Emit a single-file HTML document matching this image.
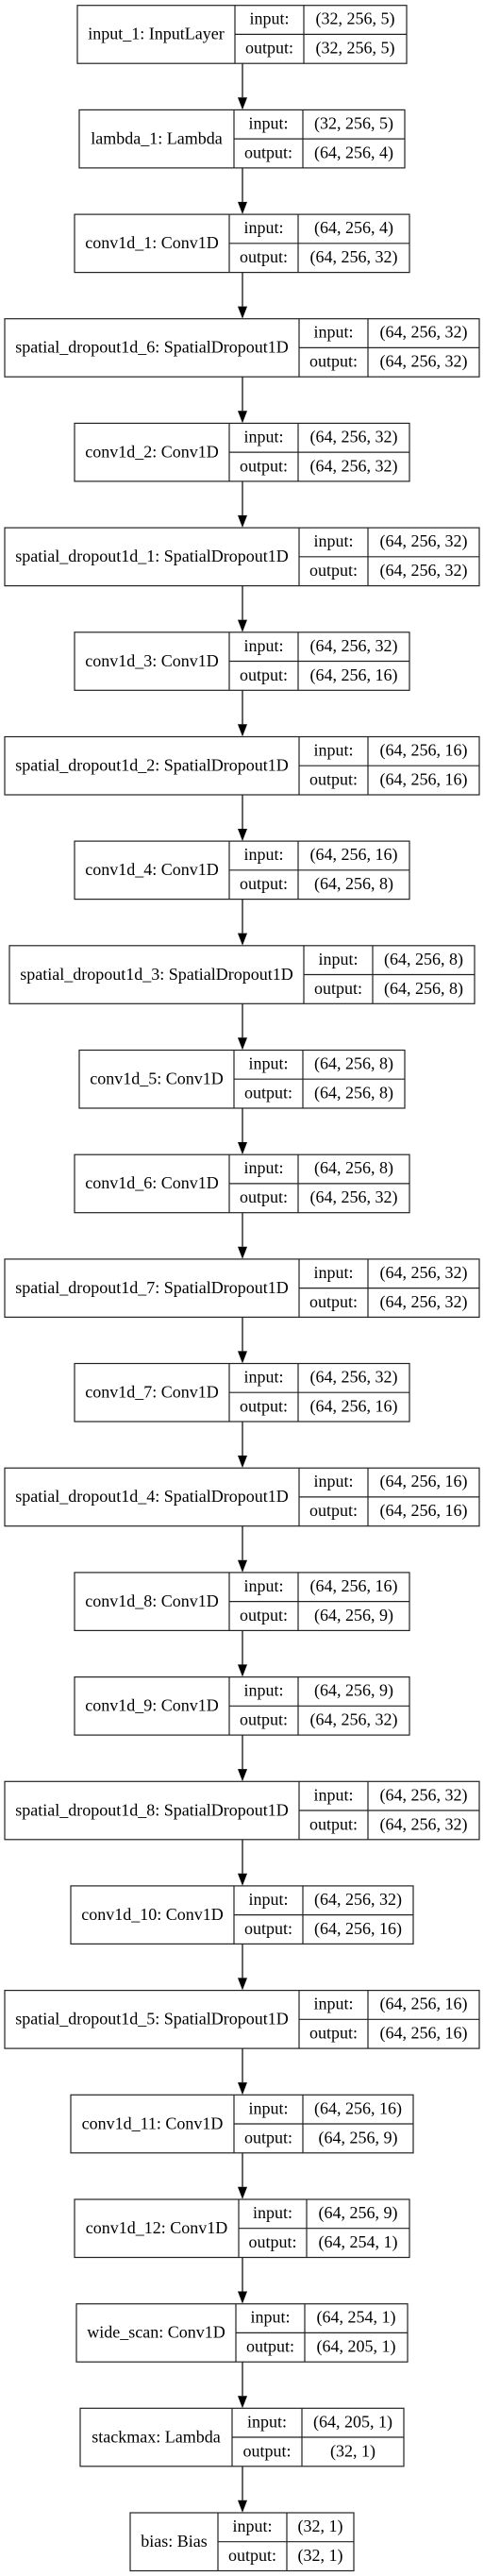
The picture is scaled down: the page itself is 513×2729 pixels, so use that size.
<!DOCTYPE html>
<html><head><meta charset="utf-8"><style>
html,body{margin:0;padding:0;background:#fff;}
svg{display:block;}
text{font-family:"Liberation Serif",serif;font-size:18px;fill:#000;}
.b{fill:none;stroke:#222;stroke-width:1.2;}
</style></head><body>
<svg width="513" height="2729" viewBox="0 0 513 2729" xmlns="http://www.w3.org/2000/svg">
<defs>
<g id="ar"><line x1="257" y1="0" x2="257" y2="36" stroke="#000" stroke-width="1.2"/><polygon points="252,36 262,36 257,49" fill="#000"/></g>
</defs>
<!-- arrows -->
<use href="#ar" y="67.2"/><use href="#ar" y="177.9"/><use href="#ar" y="288.6"/><use href="#ar" y="399.2"/><use href="#ar" y="509.9"/><use href="#ar" y="620.6"/><use href="#ar" y="731.3"/><use href="#ar" y="842"/><use href="#ar" y="952.6"/><use href="#ar" y="1063.3"/><use href="#ar" y="1174"/><use href="#ar" y="1284.7"/><use href="#ar" y="1395.4"/><use href="#ar" y="1506"/><use href="#ar" y="1616.7"/><use href="#ar" y="1727.4"/><use href="#ar" y="1838.1"/><use href="#ar" y="1948.8"/><use href="#ar" y="2059.4"/><use href="#ar" y="2170.1"/><use href="#ar" y="2280.8"/><use href="#ar" y="2391.5"/><use href="#ar" y="2502.2"/><use href="#ar" y="2612.8"/>

<g transform="translate(0,5.7)"><rect class="b" x="82" y="0" width="349" height="61.5"/><path class="b" d="M249 0V61.5M322 0V61.5M249 30.7H431"/><text x="165.5" y="36" text-anchor="middle">input_1: InputLayer</text><text x="285.5" y="20" text-anchor="middle">input:</text><text x="285.5" y="51" text-anchor="middle">output:</text><text x="376.5" y="20" text-anchor="middle">(32, 256, 5)</text><text x="376.5" y="51" text-anchor="middle">(32, 256, 5)</text></g>

<g transform="translate(0,116.4)"><rect class="b" x="84" y="0" width="345" height="61.5"/><path class="b" d="M248 0V61.5M321 0V61.5M248 30.7H429"/><text x="166" y="36" text-anchor="middle">lambda_1: Lambda</text><text x="284.5" y="20" text-anchor="middle">input:</text><text x="284.5" y="51" text-anchor="middle">output:</text><text x="375" y="20" text-anchor="middle">(32, 256, 5)</text><text x="375" y="51" text-anchor="middle">(64, 256, 4)</text></g>

<g transform="translate(0,227.1)"><rect class="b" x="79" y="0" width="355" height="61.5"/><path class="b" d="M243 0V61.5M316 0V61.5M243 30.7H434"/><text x="161" y="36" text-anchor="middle">conv1d_1: Conv1D</text><text x="279.5" y="20" text-anchor="middle">input:</text><text x="279.5" y="51" text-anchor="middle">output:</text><text x="375" y="20" text-anchor="middle">(64, 256, 4)</text><text x="375" y="51" text-anchor="middle">(64, 256, 32)</text></g>

<g transform="translate(0,337.7)"><rect class="b" x="5" y="0" width="503" height="61.5"/><path class="b" d="M317 0V61.5M390 0V61.5M317 30.7H508"/><text x="161" y="36" text-anchor="middle">spatial_dropout1d_6: SpatialDropout1D</text><text x="353.5" y="20" text-anchor="middle">input:</text><text x="353.5" y="51" text-anchor="middle">output:</text><text x="449" y="20" text-anchor="middle">(64, 256, 32)</text><text x="449" y="51" text-anchor="middle">(64, 256, 32)</text></g>

<g transform="translate(0,448.4)"><rect class="b" x="79" y="0" width="355" height="61.5"/><path class="b" d="M243 0V61.5M316 0V61.5M243 30.7H434"/><text x="161" y="36" text-anchor="middle">conv1d_2: Conv1D</text><text x="279.5" y="20" text-anchor="middle">input:</text><text x="279.5" y="51" text-anchor="middle">output:</text><text x="375" y="20" text-anchor="middle">(64, 256, 32)</text><text x="375" y="51" text-anchor="middle">(64, 256, 32)</text></g>

<g transform="translate(0,559.1)"><rect class="b" x="5" y="0" width="503" height="61.5"/><path class="b" d="M317 0V61.5M390 0V61.5M317 30.7H508"/><text x="161" y="36" text-anchor="middle">spatial_dropout1d_1: SpatialDropout1D</text><text x="353.5" y="20" text-anchor="middle">input:</text><text x="353.5" y="51" text-anchor="middle">output:</text><text x="449" y="20" text-anchor="middle">(64, 256, 32)</text><text x="449" y="51" text-anchor="middle">(64, 256, 32)</text></g>

<g transform="translate(0,669.8)"><rect class="b" x="79" y="0" width="355" height="61.5"/><path class="b" d="M243 0V61.5M316 0V61.5M243 30.7H434"/><text x="161" y="36" text-anchor="middle">conv1d_3: Conv1D</text><text x="279.5" y="20" text-anchor="middle">input:</text><text x="279.5" y="51" text-anchor="middle">output:</text><text x="375" y="20" text-anchor="middle">(64, 256, 32)</text><text x="375" y="51" text-anchor="middle">(64, 256, 16)</text></g>

<g transform="translate(0,780.5)"><rect class="b" x="5" y="0" width="503" height="61.5"/><path class="b" d="M317 0V61.5M390 0V61.5M317 30.7H508"/><text x="161" y="36" text-anchor="middle">spatial_dropout1d_2: SpatialDropout1D</text><text x="353.5" y="20" text-anchor="middle">input:</text><text x="353.5" y="51" text-anchor="middle">output:</text><text x="449" y="20" text-anchor="middle">(64, 256, 16)</text><text x="449" y="51" text-anchor="middle">(64, 256, 16)</text></g>

<g transform="translate(0,891.1)"><rect class="b" x="79" y="0" width="355" height="61.5"/><path class="b" d="M243 0V61.5M316 0V61.5M243 30.7H434"/><text x="161" y="36" text-anchor="middle">conv1d_4: Conv1D</text><text x="279.5" y="20" text-anchor="middle">input:</text><text x="279.5" y="51" text-anchor="middle">output:</text><text x="375" y="20" text-anchor="middle">(64, 256, 16)</text><text x="375" y="51" text-anchor="middle">(64, 256, 8)</text></g>

<g transform="translate(0,1001.8)"><rect class="b" x="10" y="0" width="493" height="61.5"/><path class="b" d="M322 0V61.5M395 0V61.5M322 30.7H503"/><text x="166" y="36" text-anchor="middle">spatial_dropout1d_3: SpatialDropout1D</text><text x="358.5" y="20" text-anchor="middle">input:</text><text x="358.5" y="51" text-anchor="middle">output:</text><text x="449" y="20" text-anchor="middle">(64, 256, 8)</text><text x="449" y="51" text-anchor="middle">(64, 256, 8)</text></g>

<g transform="translate(0,1112.5)"><rect class="b" x="84" y="0" width="345" height="61.5"/><path class="b" d="M248 0V61.5M321 0V61.5M248 30.7H429"/><text x="166" y="36" text-anchor="middle">conv1d_5: Conv1D</text><text x="284.5" y="20" text-anchor="middle">input:</text><text x="284.5" y="51" text-anchor="middle">output:</text><text x="375" y="20" text-anchor="middle">(64, 256, 8)</text><text x="375" y="51" text-anchor="middle">(64, 256, 8)</text></g>

<g transform="translate(0,1223.2)"><rect class="b" x="79" y="0" width="355" height="61.5"/><path class="b" d="M243 0V61.5M316 0V61.5M243 30.7H434"/><text x="161" y="36" text-anchor="middle">conv1d_6: Conv1D</text><text x="279.5" y="20" text-anchor="middle">input:</text><text x="279.5" y="51" text-anchor="middle">output:</text><text x="375" y="20" text-anchor="middle">(64, 256, 8)</text><text x="375" y="51" text-anchor="middle">(64, 256, 32)</text></g>

<g transform="translate(0,1333.9)"><rect class="b" x="5" y="0" width="503" height="61.5"/><path class="b" d="M317 0V61.5M390 0V61.5M317 30.7H508"/><text x="161" y="36" text-anchor="middle">spatial_dropout1d_7: SpatialDropout1D</text><text x="353.5" y="20" text-anchor="middle">input:</text><text x="353.5" y="51" text-anchor="middle">output:</text><text x="449" y="20" text-anchor="middle">(64, 256, 32)</text><text x="449" y="51" text-anchor="middle">(64, 256, 32)</text></g>

<g transform="translate(0,1444.5)"><rect class="b" x="79" y="0" width="355" height="61.5"/><path class="b" d="M243 0V61.5M316 0V61.5M243 30.7H434"/><text x="161" y="36" text-anchor="middle">conv1d_7: Conv1D</text><text x="279.5" y="20" text-anchor="middle">input:</text><text x="279.5" y="51" text-anchor="middle">output:</text><text x="375" y="20" text-anchor="middle">(64, 256, 32)</text><text x="375" y="51" text-anchor="middle">(64, 256, 16)</text></g>

<g transform="translate(0,1555.2)"><rect class="b" x="5" y="0" width="503" height="61.5"/><path class="b" d="M317 0V61.5M390 0V61.5M317 30.7H508"/><text x="161" y="36" text-anchor="middle">spatial_dropout1d_4: SpatialDropout1D</text><text x="353.5" y="20" text-anchor="middle">input:</text><text x="353.5" y="51" text-anchor="middle">output:</text><text x="449" y="20" text-anchor="middle">(64, 256, 16)</text><text x="449" y="51" text-anchor="middle">(64, 256, 16)</text></g>

<g transform="translate(0,1665.9)"><rect class="b" x="79" y="0" width="355" height="61.5"/><path class="b" d="M243 0V61.5M316 0V61.5M243 30.7H434"/><text x="161" y="36" text-anchor="middle">conv1d_8: Conv1D</text><text x="279.5" y="20" text-anchor="middle">input:</text><text x="279.5" y="51" text-anchor="middle">output:</text><text x="375" y="20" text-anchor="middle">(64, 256, 16)</text><text x="375" y="51" text-anchor="middle">(64, 256, 9)</text></g>

<g transform="translate(0,1776.6)"><rect class="b" x="79" y="0" width="355" height="61.5"/><path class="b" d="M243 0V61.5M316 0V61.5M243 30.7H434"/><text x="161" y="36" text-anchor="middle">conv1d_9: Conv1D</text><text x="279.5" y="20" text-anchor="middle">input:</text><text x="279.5" y="51" text-anchor="middle">output:</text><text x="375" y="20" text-anchor="middle">(64, 256, 9)</text><text x="375" y="51" text-anchor="middle">(64, 256, 32)</text></g>

<g transform="translate(0,1887.3)"><rect class="b" x="5" y="0" width="503" height="61.5"/><path class="b" d="M317 0V61.5M390 0V61.5M317 30.7H508"/><text x="161" y="36" text-anchor="middle">spatial_dropout1d_8: SpatialDropout1D</text><text x="353.5" y="20" text-anchor="middle">input:</text><text x="353.5" y="51" text-anchor="middle">output:</text><text x="449" y="20" text-anchor="middle">(64, 256, 32)</text><text x="449" y="51" text-anchor="middle">(64, 256, 32)</text></g>

<g transform="translate(0,1997.9)"><rect class="b" x="75" y="0" width="363" height="61.5"/><path class="b" d="M248 0V61.5M321 0V61.5M248 30.7H438"/><text x="161.5" y="36" text-anchor="middle">conv1d_10: Conv1D</text><text x="284.5" y="20" text-anchor="middle">input:</text><text x="284.5" y="51" text-anchor="middle">output:</text><text x="379.5" y="20" text-anchor="middle">(64, 256, 32)</text><text x="379.5" y="51" text-anchor="middle">(64, 256, 16)</text></g>

<g transform="translate(0,2108.6)"><rect class="b" x="5" y="0" width="503" height="61.5"/><path class="b" d="M317 0V61.5M390 0V61.5M317 30.7H508"/><text x="161" y="36" text-anchor="middle">spatial_dropout1d_5: SpatialDropout1D</text><text x="353.5" y="20" text-anchor="middle">input:</text><text x="353.5" y="51" text-anchor="middle">output:</text><text x="449" y="20" text-anchor="middle">(64, 256, 16)</text><text x="449" y="51" text-anchor="middle">(64, 256, 16)</text></g>

<g transform="translate(0,2219.3)"><rect class="b" x="75" y="0" width="363" height="61.5"/><path class="b" d="M248 0V61.5M321 0V61.5M248 30.7H438"/><text x="161.5" y="36" text-anchor="middle">conv1d_11: Conv1D</text><text x="284.5" y="20" text-anchor="middle">input:</text><text x="284.5" y="51" text-anchor="middle">output:</text><text x="379.5" y="20" text-anchor="middle">(64, 256, 16)</text><text x="379.5" y="51" text-anchor="middle">(64, 256, 9)</text></g>

<g transform="translate(0,2330)"><rect class="b" x="79" y="0" width="355" height="61.5"/><path class="b" d="M253 0V61.5M325 0V61.5M253 30.7H434"/><text x="166" y="36" text-anchor="middle">conv1d_12: Conv1D</text><text x="289" y="20" text-anchor="middle">input:</text><text x="289" y="51" text-anchor="middle">output:</text><text x="379.5" y="20" text-anchor="middle">(64, 256, 9)</text><text x="379.5" y="51" text-anchor="middle">(64, 254, 1)</text></g>

<g transform="translate(0,2440.7)"><rect class="b" x="81" y="0" width="351" height="61.5"/><path class="b" d="M250 0V61.5M323 0V61.5M250 30.7H432"/><text x="165.5" y="36" text-anchor="middle">wide_scan: Conv1D</text><text x="286.5" y="20" text-anchor="middle">input:</text><text x="286.5" y="51" text-anchor="middle">output:</text><text x="377.5" y="20" text-anchor="middle">(64, 254, 1)</text><text x="377.5" y="51" text-anchor="middle">(64, 205, 1)</text></g>

<g transform="translate(0,2551.3)"><rect class="b" x="85" y="0" width="343" height="61.5"/><path class="b" d="M246 0V61.5M320 0V61.5M246 30.7H428"/><text x="165.5" y="36" text-anchor="middle">stackmax: Lambda</text><text x="283" y="20" text-anchor="middle">input:</text><text x="283" y="51" text-anchor="middle">output:</text><text x="374" y="20" text-anchor="middle">(64, 205, 1)</text><text x="374" y="51" text-anchor="middle">(32, 1)</text></g>

<g transform="translate(0,2662)"><rect class="b" x="138" y="0" width="237" height="61.5"/><path class="b" d="M231 0V61.5M304 0V61.5M231 30.7H375"/><text x="184.5" y="36" text-anchor="middle">bias: Bias</text><text x="267.5" y="20" text-anchor="middle">input:</text><text x="267.5" y="51" text-anchor="middle">output:</text><text x="339.5" y="20" text-anchor="middle">(32, 1)</text><text x="339.5" y="51" text-anchor="middle">(32, 1)</text></g>
</svg>
</body></html>
